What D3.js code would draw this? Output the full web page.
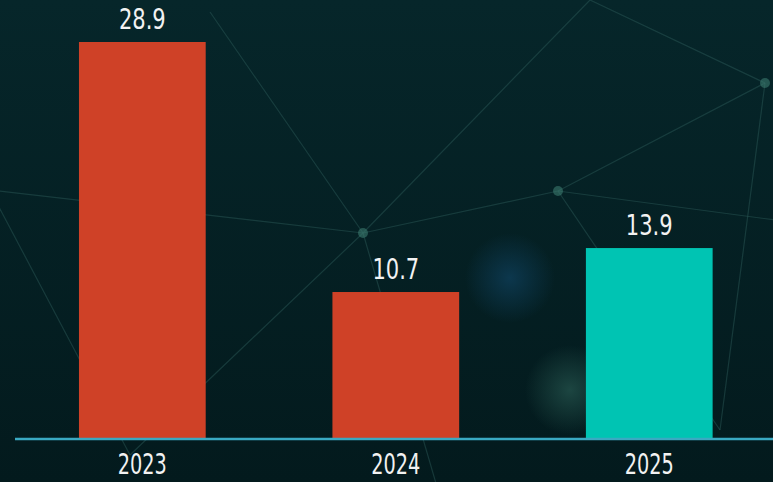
<!DOCTYPE html>
<html>
<head>
<meta charset="utf-8">
<script src="https://cdn.jsdelivr.net/npm/d3@7"></script>
<style>
  html, body { margin: 0; padding: 0; background: #03191c; }
  svg { display: block; }
</style>
</head>
<body>
<svg id="chart" width="773" height="482"></svg>
<script>
var years = ['2023', '2024', '2025'];
var values = [28.9, 10.7, 13.9];
var barColors = ['#cf4127', '#cf4127', '#00c4b3'];

// background network decoration (nodes and links, just for look)
var netNodes = [[-10, 190], [363, 233], [558, 191], [765, 83], [210, 12], [590, 0], [130, 455], [720, 430], [1000, 250], [470, 600]];
var netLinks = [[0, 1], [1, 2], [2, 3], [1, 5], [2, 7], [1, 6], [0, 6], [3, 7], [2, 8], [1, 9], [4, 1], [5, 3]];

var svg = d3.select("#chart"),
    width = +svg.attr("width"),
    height = +svg.attr("height");

var font = "'DejaVu Sans Condensed', 'DejaVu Sans', sans-serif";

var defs = svg.append("defs");
var bg = defs.append("linearGradient").attr("id", "bg")
    .attr("x1", 0).attr("y1", 0).attr("x2", 0).attr("y2", 1);
bg.append("stop").attr("offset", "0%").attr("stop-color", "#06262a");
bg.append("stop").attr("offset", "100%").attr("stop-color", "#031a1d");

var glowB = defs.append("radialGradient").attr("id", "glowB");
glowB.append("stop").attr("offset", "0%").attr("stop-color", "#0d3a52").attr("stop-opacity", 0.9);
glowB.append("stop").attr("offset", "100%").attr("stop-color", "#0d3a52").attr("stop-opacity", 0);
var glowG = defs.append("radialGradient").attr("id", "glowG");
glowG.append("stop").attr("offset", "0%").attr("stop-color", "#1f4a45").attr("stop-opacity", 0.9);
glowG.append("stop").attr("offset", "100%").attr("stop-color", "#1f4a45").attr("stop-opacity", 0);

svg.append("rect").attr("width", width).attr("height", height).attr("fill", "url(#bg)");
svg.append("circle").attr("cx", 510).attr("cy", 278).attr("r", 45).attr("fill", "url(#glowB)");
svg.append("circle").attr("cx", 570).attr("cy", 390).attr("r", 45).attr("fill", "url(#glowG)");

var net = svg.append("g");
net.selectAll("line")
    .data(netLinks)
    .enter()
    .append("line")
    .attr("x1", function(d) { return netNodes[d[0]][0]; })
    .attr("y1", function(d) { return netNodes[d[0]][1]; })
    .attr("x2", function(d) { return netNodes[d[1]][0]; })
    .attr("y2", function(d) { return netNodes[d[1]][1]; })
    .attr("stroke", "#2f5d5c")
    .attr("stroke-opacity", 0.45)
    .attr("stroke-width", 1.2);
net.selectAll("circle")
    .data(netNodes.slice(1, 4))
    .enter()
    .append("circle")
    .attr("cx", function(d) { return d[0]; })
    .attr("cy", function(d) { return d[1]; })
    .attr("r", 5)
    .attr("fill", "#3b7a6e")
    .attr("fill-opacity", 0.6);

var x = d3.scaleBand()
    .domain(years)
    .range([15.6, 776])
    .paddingInner(0.5)
    .paddingOuter(0.25);

var baseY = 439;
var y = d3.scaleLinear().domain([0, 28.9]).range([baseY, 42]);

var g = svg.append("g");

g.selectAll(".bar")
    .data(values)
    .enter()
    .append("rect")
    .attr("class", "bar")
    .attr("x", function(d, i) { return x(years[i]); })
    .attr("y", function(d) { return y(d); })
    .attr("width", x.bandwidth())
    .attr("height", function(d) { return baseY - y(d); })
    .attr("fill", function(d, i) { return barColors[i]; });

// value labels, squeezed a bit to get the narrow look
g.selectAll(".val")
    .data(values)
    .enter()
    .append("text")
    .attr("class", "val")
    .attr("transform", function(d, i) {
        return "translate(" + (x(years[i]) + x.bandwidth() / 2) + "," + (y(d) - 13) + ") scale(0.85,1)";
    })
    .attr("text-anchor", "middle")
    .attr("font-family", font)
    .attr("font-size", "27.5px")
    .attr("fill", "#f2f2f2")
    .text(function(d) { return d.toFixed(1); });

// x axis
var axis = g.append("g")
    .attr("transform", "translate(0," + baseY + ")")
    .call(d3.axisBottom(x).tickSize(0).tickPadding(0));
axis.select(".domain")
    .attr("d", "M15,0H773")
    .attr("stroke", "#3aa9c2")
    .attr("stroke-width", 2.5);
axis.selectAll("text")
    .attr("dy", null)
    .attr("y", null)
    .attr("transform", "translate(0,35) scale(0.74,1)")
    .attr("font-family", font)
    .attr("font-size", "29px")
    .attr("fill", "#f2f2f2");
</script>
</body>
</html>
